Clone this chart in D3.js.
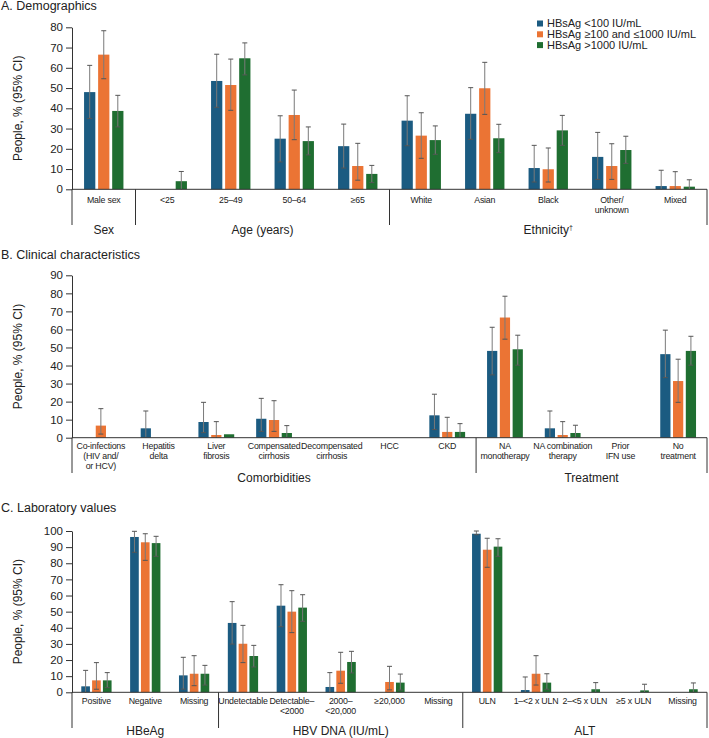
<!DOCTYPE html>
<html>
<head>
<meta charset="utf-8">
<script src="https://cdn.jsdelivr.net/npm/d3@7"></script>
<style>
  body { margin: 0; background: #fff; }
  svg { display: block; font-family: "Liberation Sans", Arial, sans-serif; }
</style>
</head>
<body>
<div id="chart"></div>
<script>
const seriesNames = ["HBsAg <100 IU/mL", "HBsAg \u2265100 and \u22641000 IU/mL", "HBsAg >1000 IU/mL"];
const colors = ["#1b5b81", "#eb7434", "#1f6e31"];

// A. Demographics
const demoCategories = ["Male sex", "<25", "25\u201349", "50\u201364", "\u226565", "White", "Asian", "Black", "Other/\nunknown", "Mixed"];
const demoGroups = [["Sex", 1], ["Age (years)", 4], ["Ethnicity", 5]];
const demoBlue = [48, null, 53.5, 25, 21.3, 33.9, 37.3, 10.5, 16, 1.6];
const demoOrange = [66.5, null, 51.5, 36.7, 11.5, 26.5, 49.9, 9.9, 11.5, 1.6];
const demoGreen = [38.7, 4, 64.7, 23.8, 7.6, 24.3, 25.2, 29.1, 19.4, 1.3];
const demoBlueCI = [[35, 61.2], null, [40.5, 66.7], [13.5, 36.3], [10.5, 32.2], [21.5, 46.2], [24.7, 50.2], [3.6, 21.7], [4.9, 28.1], [0, 9.4]];
const demoOrangeCI = [[54.6, 78.3], null, [39, 64.3], [24.5, 49], [4.5, 22.7], [15.3, 37.8], [37, 62.7], [3.6, 20.4], [4.9, 22.5], [0, 8.7]];
const demoGreenCI = [[30.8, 46.4], [0, 8.8], [56.5, 72.3], [17, 30.8], [3.3, 11.8], [17.3, 31.3], [18.1, 32.1], [21.7, 36.5], [12.8, 26.2], [0, 4.7]];

// B. Clinical characteristics
const clinCategories = ["Co-infections\n(HIV and/\nor HCV)", "Hepatitis\ndelta", "Liver\nfibrosis", "Compensated\ncirrhosis", "Decompensated\ncirrhosis", "HCC", "CKD", "NA\nmonotherapy", "NA combination\ntherapy", "Prior\nIFN use", "No\ntreatment"];
const clinGroups = [["Comorbidities", 7], ["Treatment", 4]];
const clinBlue = [null, 5.2, 8.7, 10.5, null, null, 12.4, 48.1, 5.2, null, 46.3];
const clinOrange = [6.7, null, 1.5, 9.8, null, null, 3.2, 66.6, 1.5, null, 31.4];
const clinGreen = [null, null, 1.9, 2.6, null, null, 3.2, 49, 2.6, null, 48.1];
const clinBlueCI = [null, [0.5, 14.8], [2.8, 19.6], [3.5, 21.8], null, null, [4.5, 24.1], [34.8, 61.2], [0.5, 14.8], null, [33.3, 59.6]];
const clinOrangeCI = [[2, 16.1], null, [0, 8.9], [3.5, 20.5], null, null, [0.3, 11.3], [54.6, 78.4], [0, 8.9], null, [19.6, 43.5]];
const clinGreenCI = [null, null, null, [0.5, 6.7], null, null, [0.5, 7.8], [40.2, 56.8], [0.5, 6.9], null, [40.2, 56.2]];

// C. Laboratory values
const labCategories = ["Positive", "Negative", "Missing", "Undetectable", "Detectable\u2013\n<2000", "2000\u2013\n<20,000", "\u226520,000", "Missing", "ULN", "1\u2013<2 x ULN", "2\u2013<5 x ULN", "\u22655 x ULN", "Missing"];
const labGroups = [["HBeAg", 3], ["HBV DNA (IU/mL)", 5], ["ALT", 5]];
const labBlue = [3.7, 96.3, 10.5, 43, 53.7, 3.3, null, null, 98.3, 1.4, null, null, null];
const labOrange = [7.4, 93, 11.5, 30.1, 50, 13.4, 6.4, null, 88.4, 11.5, null, null, null];
const labGreen = [7.4, 92.5, 11.5, 22.5, 52.5, 18.8, 6.0, null, 90.3, 6.0, 1.9, 1.2, 1.9];
const labBlueCI = [[0, 13.6], [86.8, 99.8], [2, 21.7], [29.9, 56.2], [40.7, 66.7], [0, 12.2], null, null, [97.7, 100], [0, 9.5], null, null, null];
const labOrangeCI = [[1.9, 18.4], [81.8, 98.3], [4.1, 22.7], [18.4, 41.5], [37, 63], [5.6, 24.8], [1.5, 16.1], null, [77.5, 95.5], [4.5, 22.7], null, null, null];
const labGreenCI = [[2.9, 12.2], [84.3, 96.7], [4.5, 16.7], [15.7, 29.1], [44, 60.5], [12, 25.4], [1.4, 11.3], null, [84.3, 95.2], [1.9, 11.5], [0, 6], [0, 5], [0, 5.8]];

const width = 709, height = 738;
const left = 72, right = 707;

const svg = d3.select("#chart").append("svg")
  .attr("width", width)
  .attr("height", height);

function drawPanel(p) {
  const g = svg.append("g");

  // Título do painel
  g.append("text")
    .attr("x", 1).attr("y", p.titleY)
    .style("font-size", "12.5px").attr("fill", "#222")
    .text(p.title);

  const x = d3.scaleBand().domain(d3.range(p.categories.length)).range([left, right]);
  const groupW = x.bandwidth() * 0.62;
  const xs = d3.scaleBand().domain([0, 1, 2]).range([0, groupW]).paddingInner(0.2);
  const y = d3.scaleLinear().domain([0, p.max]).range([p.y0, p.yTop]);

  // Eixo Y
  const yAxis = g.append("g")
    .attr("transform", `translate(${left},0)`)
    .call(d3.axisLeft(y).tickValues(d3.range(0, p.max + 1, 10)).tickSize(6).tickSizeOuter(0).tickPadding(3));
  yAxis.select(".domain").attr("stroke", "#333");
  yAxis.selectAll(".tick line").attr("stroke", "#333");
  yAxis.selectAll("text").style("font-size", "11.5px").style("font-family", "Liberation Sans, Arial, sans-serif").attr("fill", "#222");

  g.append("text")
    .attr("transform", `translate(22,${(p.y0 + p.yTop) / 2}) rotate(-90)`)
    .attr("text-anchor", "middle")
    .style("font-size", "12px").attr("fill", "#222")
    .text("People, % (95% CI)");

  // Barras
  const series = [p.blue, p.orange, p.green];
  const cis = [p.blueCI, p.orangeCI, p.greenCI];
  series.forEach((vals, s) => {
    const data = vals.map((v, i) => ({ i, v, ci: cis[s][i] }));
    const bx = d => x(d.i) + (x.bandwidth() - groupW) / 2 + xs(s);
    g.selectAll(null)
      .data(data.filter(d => d.v != null))
      .enter().append("rect")
      .attr("x", bx)
      .attr("y", d => y(d.v))
      .attr("width", xs.bandwidth())
      .attr("height", d => y(0) - y(d.v))
      .attr("fill", colors[s]);

    const withCI = data.filter(d => d.ci != null);
    const cx = d => bx(d) + xs.bandwidth() / 2;
    g.selectAll(null).data(withCI).enter().append("line")
      .attr("x1", cx).attr("x2", cx)
      .attr("y1", d => y(d.ci[0])).attr("y2", d => y(d.ci[1]))
      .attr("stroke", "#7a7a7a").attr("stroke-width", 1);
    [0, 1].forEach(k => {
      g.selectAll(null).data(withCI.filter(d => k === 1 || d.ci[0] > 0.6)).enter().append("line")
        .attr("x1", d => cx(d) - 2.5).attr("x2", d => cx(d) + 2.5)
        .attr("y1", d => y(d.ci[k])).attr("y2", d => y(d.ci[k]))
        .attr("stroke", "#555").attr("stroke-width", 1);
    });
  });

  // Eixo X
  g.append("line")
    .attr("x1", left).attr("x2", right)
    .attr("y1", p.y0).attr("y2", p.y0)
    .attr("stroke", "#333").attr("stroke-width", 1);

  // Rótulos das categorias
  p.categories.forEach((c, i) => {
    const t = g.append("text")
      .attr("x", x(i) + x.bandwidth() / 2)
      .attr("y", p.labelY)
      .attr("text-anchor", "middle")
      .style("font-size", "8.8px")
      .style("letter-spacing", "-0.2px")
      .attr("fill", "#222");
    c.split("\n").forEach((line, k) => {
      t.append("tspan")
        .attr("x", x(i) + x.bandwidth() / 2)
        .attr("dy", k === 0 ? 0 : 10)
        .text(line);
    });
  });

  // Grupos e divisores
  let start = 0;
  const bounds = [0];
  p.groups.forEach(([name, n]) => {
    const x0 = x(start), x1 = start + n < p.categories.length ? x(start + n) : right;
    const t = g.append("text")
      .attr("x", (x0 + x1) / 2).attr("y", p.groupY)
      .attr("text-anchor", "middle")
      .style("font-size", "12px").attr("fill", "#222")
      .text(name);
    if (name === "Ethnicity") {
      t.append("tspan").attr("dy", -4).style("font-size", "7px").text("\u2020");
    }
    start += n;
    bounds.push(start);
  });
  bounds.forEach(b => {
    const bxv = b < p.categories.length ? x(b) : right;
    g.append("line")
      .attr("x1", bxv).attr("x2", bxv)
      .attr("y1", p.y0).attr("y2", p.divEnd)
      .attr("stroke", "#333").attr("stroke-width", 1);
  });
}

drawPanel({
  title: "A. Demographics", titleY: 10,
  categories: demoCategories, groups: demoGroups, max: 80,
  y0: 189.3, yTop: 27.3, labelY: 202.5, divEnd: 225, groupY: 233.5,
  blue: demoBlue, orange: demoOrange, green: demoGreen,
  blueCI: demoBlueCI, orangeCI: demoOrangeCI, greenCI: demoGreenCI
});

drawPanel({
  title: "B. Clinical characteristics", titleY: 258.5,
  categories: clinCategories, groups: clinGroups, max: 90,
  y0: 437.7, yTop: 275.3, labelY: 448.5, divEnd: 473, groupY: 481.5,
  blue: clinBlue, orange: clinOrange, green: clinGreen,
  blueCI: clinBlueCI, orangeCI: clinOrangeCI, greenCI: clinGreenCI
});

drawPanel({
  title: "C. Laboratory values", titleY: 511.5,
  categories: labCategories, groups: labGroups, max: 100,
  y0: 692.3, yTop: 531, labelY: 704, divEnd: 728, groupY: 735,
  blue: labBlue, orange: labOrange, green: labGreen,
  blueCI: labBlueCI, orangeCI: labOrangeCI, greenCI: labGreenCI
});

// Legenda
const legend = svg.append("g").attr("transform", "translate(537,23.5)");
seriesNames.forEach((name, i) => {
  legend.append("rect")
    .attr("x", 0).attr("y", i * 10.8 - 3)
    .attr("width", 6).attr("height", 6)
    .attr("fill", colors[i]);
  legend.append("text")
    .attr("x", 10).attr("y", i * 10.8)
    .attr("dy", "0.35em")
    .style("font-size", "11px").attr("fill", "#222")
    .text(name);
});
</script>
</body>
</html>
